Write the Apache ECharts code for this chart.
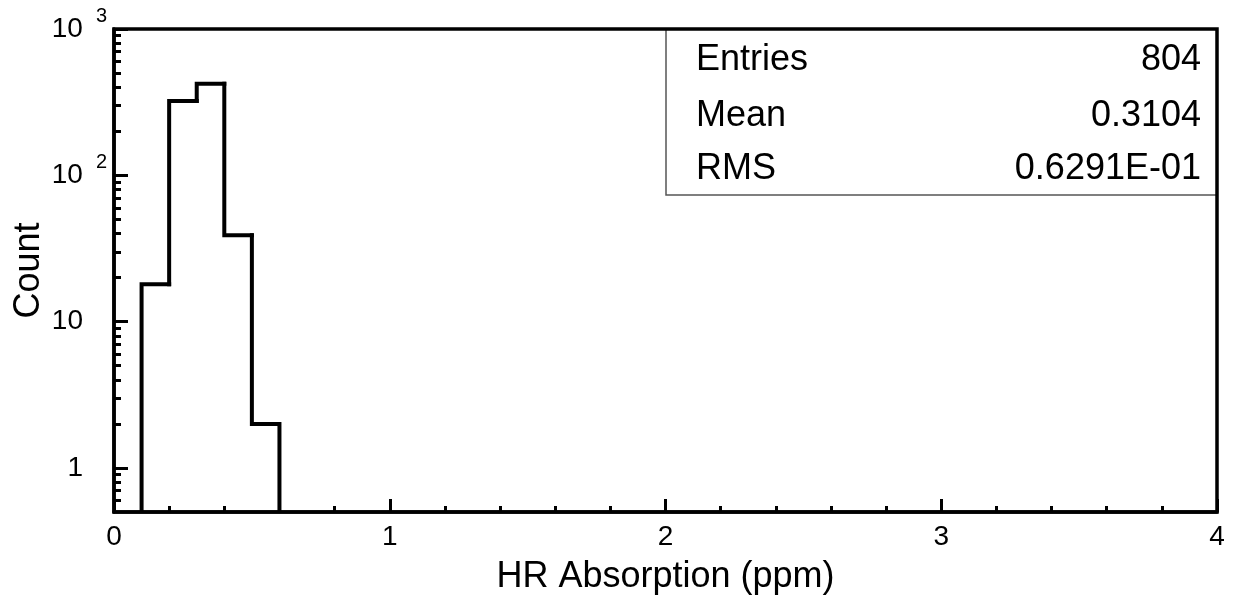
<!DOCTYPE html>
<html>
<head>
<meta charset="utf-8">
<script src="https://cdn.jsdelivr.net/npm/echarts@6/dist/echarts.min.js"></script>
<style>html,body{margin:0;padding:0;background:#fff}#c{width:1236px;height:608px}</style>
</head>
<body>
<div id="c"></div>
<script>
// ---- data ----
var binLow = [0.1, 0.2, 0.3, 0.4, 0.5];
var binHigh = [0.2, 0.3, 0.4, 0.5, 0.6];
var counts = [18, 322, 423, 39, 2];
var xTicks = [0, 1, 2, 3, 4];
var yMajorTicks = [1, 10, 100, 1000];
var yMinorTicks = [0.6, 0.7, 0.8, 0.9, 2, 3, 4, 5, 6, 7, 8, 9, 20, 30, 40, 50, 60, 70, 80, 90, 200, 300, 400, 500, 600, 700, 800, 900];
var statLabels = ['Entries', 'Mean', 'RMS'];
var statValues = ['804', '0.3104', '0.6291E-01'];

var FONT = '"Liberation Sans", Arial, Helvetica, sans-serif';
var chart = echarts.init(document.getElementById('c'), null, {renderer: 'canvas'});

var histData = binLow.map(function (lo, i) { return [lo, binHigh[i], counts[i]]; });

function yLabel(v) {
  var e = Math.round(Math.log10(v));
  if (Math.abs(Math.log10(v) - e) > 1e-6) return '';
  if (e >= 2) return '{b|10}{s|' + e + '}';
  return '{b|' + v + '}{p|}';
}

var statGraphics = [{
  type: 'rect',
  shape: {x: 666, y: 29, width: 551, height: 166},
  style: {fill: '#fff', stroke: '#555', lineWidth: 1.5},
  z: 10
}];
var rowY = [60, 116, 169];
statLabels.forEach(function (t, i) {
  statGraphics.push({
    type: 'text', x: 696, y: rowY[i], z: 11,
    style: {text: t, font: '36px ' + FONT, fill: '#000', align: 'left', verticalAlign: 'middle'}
  });
  statGraphics.push({
    type: 'text', x: 1201, y: rowY[i], z: 11,
    style: {text: statValues[i], font: '36px ' + FONT, fill: '#000', align: 'right', verticalAlign: 'middle'}
  });
});

var option = {
  backgroundColor: '#fff',
  animation: false,
  textStyle: {fontFamily: FONT},
  grid: {
    left: 114, right: 19, top: 29, bottom: 96, show: true, borderColor: '#000', borderWidth: 3.5, z: 12,
    containLabel: false, outerBoundsMode: 'none'
  },
  xAxis: {
    type: 'value', min: xTicks[0], max: xTicks[xTicks.length - 1], interval: 1,
    name: 'HR Absorption (ppm)', nameLocation: 'middle', nameGap: 47, nameMoveOverlap: false,
    nameTextStyle: {fontSize: 36, color: '#000', fontFamily: FONT},
    axisLine: {show: true, lineStyle: {color: '#000', width: 3.5}},
    axisTick: {show: true, inside: true, length: 13, lineStyle: {color: '#000', width: 3}},
    minorTick: {show: true, splitNumber: 5, length: 6, lineStyle: {color: '#000', width: 3}},
    axisLabel: {fontSize: 28, color: '#000', margin: 11, fontFamily: FONT},
    splitLine: {show: false}
  },
  yAxis: [{
    type: 'log', logBase: 10, min: 0.5, max: 1000,
    name: 'Count', nameLocation: 'middle', nameGap: 67, nameMoveOverlap: false,
    nameTextStyle: {fontSize: 36, color: '#000', fontFamily: FONT},
    axisLine: {show: true, lineStyle: {color: '#000', width: 3.5}},
    axisTick: {show: true, inside: true, length: 14, customValues: yMajorTicks, lineStyle: {color: '#000', width: 3}},
    axisLabel: {
      customValues: yMajorTicks, margin: 7, color: '#000', formatter: yLabel,
      rich: {
        b: {fontSize: 28, fontFamily: FONT, color: '#000', verticalAlign: 'middle'},
        s: {fontSize: 20, fontFamily: FONT, color: '#000', padding: [0, 0, 26, 13], verticalAlign: 'middle'},
        p: {width: 24, fontSize: 20, verticalAlign: 'middle'}
      }
    },
    splitLine: {show: false}
  }, {
    type: 'log', logBase: 10, min: 0.5, max: 1000, position: 'left',
    axisLine: {show: false},
    axisTick: {show: true, inside: true, length: 7, customValues: yMinorTicks, lineStyle: {color: '#000', width: 3}},
    axisLabel: {show: false},
    splitLine: {show: false}
  }],
  graphic: statGraphics,
  series: [{
    type: 'custom',
    xAxisIndex: 0, yAxisIndex: 0,
    data: histData,
    encode: {x: [0, 1], y: 2},
    clip: true,
    renderItem: function (params, api) {
      var i = params.dataIndexInside;
      var x0 = api.value(0), x1 = api.value(1), v = api.value(2);
      var bottom = params.coordSys.y + params.coordSys.height;
      var pTopL = api.coord([x0, v]);
      var pTopR = api.coord([x1, v]);
      var startY = i > 0 ? api.coord([x0, api.value(2, i - 1)])[1] : bottom;
      var pts = [[pTopL[0], startY], pTopL, pTopR];
      if (i === histData.length - 1) {
        pts.push([pTopR[0], bottom]);
      }
      return {
        type: 'polyline',
        shape: {points: pts},
        style: {stroke: '#000', lineWidth: 4, fill: null, lineJoin: 'miter', lineCap: 'square'}
      };
    }
  }]
};
chart.setOption(option);
</script>
</body>
</html>
